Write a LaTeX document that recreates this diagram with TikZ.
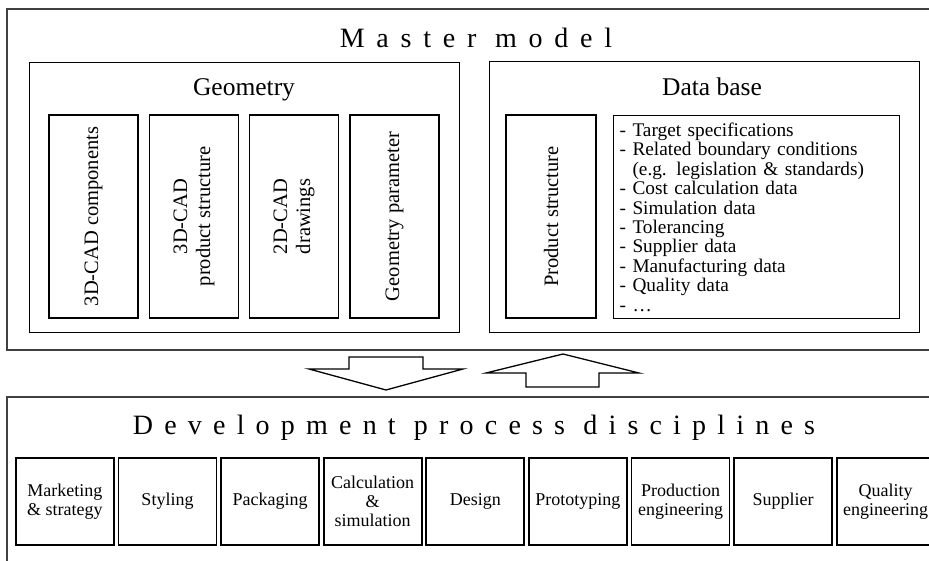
\documentclass[tikz,border=0pt]{standalone}
\usepackage{fontspec}
\setmainfont{Liberation Serif}
\begin{document}
\begin{tikzpicture}[x=1pt,y=-1pt,
  frame/.style={draw=black!75, line width=1.5pt, inner sep=0pt, outer sep=0pt, anchor=north west},
  panel/.style={draw, line width=1.3pt, inner sep=0pt, anchor=north west},
  part/.style={draw, line width=1.3pt, inner sep=0pt, rotate=90, minimum width=203pt,
    minimum height=89pt, align=center, font=\fontsize{20.5}{23}\selectfont},
  heading/.style={anchor=base, inner sep=0pt, font=\fontsize{25.5}{30}\selectfont},
  spaced/.style={anchor=base, inner sep=0pt,
    font=\fontsize{28}{32}\selectfont\addfontfeature{LetterSpace=42}},
  discipline/.style={draw, line width=1.8pt, inner sep=0pt, anchor=north west,
    minimum width=98pt, minimum height=87pt, align=center,
    font=\fontsize{18}{18.8}\selectfont},
  blockarrow/.style={draw, line width=1.3pt, line join=miter, fill=white}
]
\useasboundingbox (0,0) rectangle (929,561);
\clip (0,0) rectangle (929,561);

% ---------- master model ----------
\node[frame, minimum width=1000pt, minimum height=341pt] (master) at (7,9) {};
\node[spaced] (mastertitle) at (476,48) {Master model};

% geometry panel
\node[panel, minimum width=430pt, minimum height=270pt] (geometry) at (29,62) {};
\node[heading] (geotitle) at (244,96) {Geometry};
\node[part] (cadcomp)  at (93.5,216.5) {3D-CAD components};
\node[part] (cadprod)  at (194,216.5)  {3D-CAD\\product structure};
\node[part] (caddraw)  at (294,216.5)  {2D-CAD\\drawings};
\node[part] (geoparam) at (394.5,216.5) {Geometry parameter};

% data base panel
\node[panel, minimum width=430pt, minimum height=271pt] (database) at (489,61) {};
\node[heading] (dbtitle) at (712,96) {Data base};
\node[part, minimum height=90pt] (prodstruct) at (551,216.5) {Product structure};
\node[panel, minimum width=286pt, minimum height=203pt, text width=274pt,
      inner xsep=6pt, align=left, font=\fontsize{19.3}{19.4}\selectfont]
      (datalist) at (613,115) {%
  - Target specifications\\
  - Related boundary conditions\\
  \hphantom{-} (e.g. legislation \& standards)\\
  - Cost calculation data\\
  - Simulation data\\
  - Tolerancing\\
  - Supplier data\\
  - Manufacturing data\\
  - Quality data\\
  - \dots};

% ---------- exchange arrows ----------
\draw[blockarrow] (349,357) -- (423,357) -- (423,369) -- (463,369) -- (386,390)
  -- (309,369) -- (349,369) -- cycle;
\draw[blockarrow] (563,354) -- (639,373) -- (599,373) -- (599,387) -- (526,387)
  -- (526,373) -- (486,373) -- cycle;

% ---------- development process disciplines ----------
\node[frame, minimum width=1000pt, minimum height=300pt] (dev) at (7,397) {};
\node[spaced, font=\fontsize{28}{32}\selectfont\addfontfeature{LetterSpace=40}]
  (devtitle) at (474,434) {Development process disciplines};

\foreach \t [count=\i from 0] in {{Marketing\\\& strategy}, Styling, Packaging,
    {Calculation\\\&\\simulation}, Design, Prototyping, {Production\\engineering},
    Supplier, {Quality\\engineering}}
  \node[discipline] (disc\i) at ({15+102.6*\i},457) {\t};
\end{tikzpicture}
\end{document}
